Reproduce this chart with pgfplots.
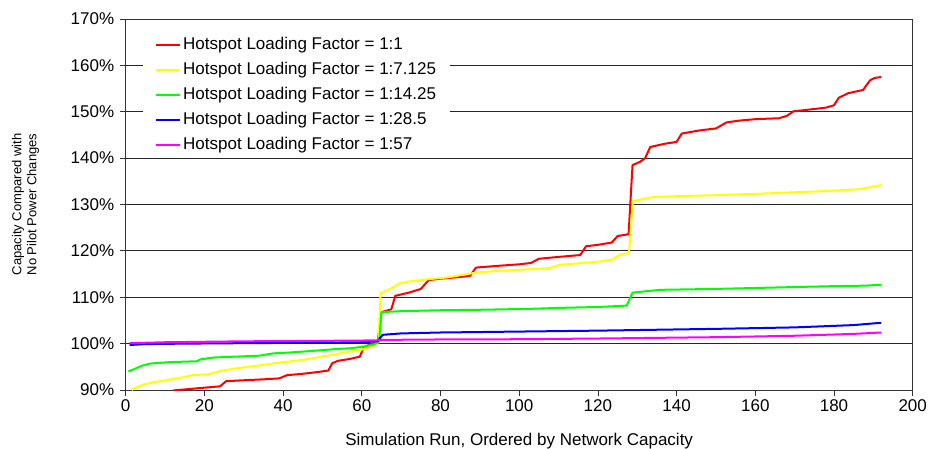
\documentclass[border=0pt]{standalone}
\usepackage{fontspec}
\setmainfont{Liberation Sans}
\usepackage{pgfplots}
\pgfplotsset{compat=1.18}
\usepackage{pgfplotstable}

\pgfplotstableread{
x y
12 89.9
16 90.2
20 90.5
24 90.8
25.5 91.9
30 92.1
35 92.3
39 92.5
41 93.2
45 93.5
49 93.9
51.5 94.2
52.5 95.8
54 96.3
57 96.7
59.5 97.2
60.5 99.2
62 99.8
64 100.3
65 106.8
67.5 107.4
68.5 110.3
72 111.0
75 111.8
77 113.7
80 114.0
84 114.3
87.5 114.6
89 116.4
95 116.8
100 117.1
103 117.4
105 118.3
110 118.7
115.5 119.1
117 121.0
120 121.3
123.5 121.8
125 123.2
127.8 123.6
128.8 138.5
130.7 139.2
132 140.0
133.3 142.4
137 143.1
140 143.5
141.3 145.3
146 146.0
150 146.4
152.7 147.7
156 148.1
160 148.4
166 148.6
168 149.1
169.7 150.1
173 150.4
178 150.9
180 151.4
181.2 153.0
183.6 154.0
187.4 154.7
188.3 155.8
189.2 156.8
190.4 157.3
192 157.5
}\redtab

\pgfplotstableread{
x y
1.5 90.0
3 90.7
5 91.3
8 91.8
11 92.2
15 92.8
17 93.2
21 93.4
24 94.1
26 94.4
30 94.9
34 95.3
40 96.0
45 96.5
48 96.9
51 97.4
55 98.0
60 98.7
63 99.6
64.2 100.3
64.8 110.9
67 111.7
69.7 113.0
72 113.4
77 113.9
82 114.3
87.5 115.1
90 115.4
95 115.7
102 116.0
107.8 116.3
110.4 117.0
115 117.3
120.5 117.7
123.9 118.2
125.6 119.2
127.9 119.5
128.9 130.7
131 131.1
134 131.6
140 131.8
150 132.0
160 132.3
166 132.5
175 132.8
180 133.0
186.6 133.3
192 134.2
}\yellowtab

\pgfplotstableread{
x y
0.7 94.0
2.4 94.6
4 95.2
6.2 95.7
11 96.0
18 96.2
19 96.6
22.3 97.0
28 97.2
34 97.4
37.5 97.9
42 98.1
48.5 98.5
53 98.8
57 99.0
60 99.3
63 99.8
64.4 100.4
65 106.8
70 107.0
80 107.2
90 107.3
102.8 107.5
110 107.7
120 107.9
127.3 108.2
128.8 111.0
135.8 111.6
150 111.8
160 112.0
170 112.2
180 112.4
188 112.5
192 112.7
}\greentab

\pgfplotstableread{
x y
1 99.7
5 99.9
15 100.0
30 100.1
50 100.2
60 100.3
64 100.5
65.3 101.9
70 102.2
80 102.4
100 102.6
120 102.8
151 103.2
170 103.5
185 104.0
192 104.5
}\bluetab

\pgfplotstableread{
x y
1 100.1
10 100.3
30 100.5
50 100.6
64 100.7
65 100.8
80 100.9
100 100.95
120 101.1
151 101.4
170 101.7
185 102.1
192 102.4
}\magentatab

\definecolor{cred}{RGB}{255,0,0}
\definecolor{cyellow}{RGB}{255,255,0}
\definecolor{cgreen}{RGB}{0,255,0}
\definecolor{cblue}{RGB}{0,0,255}
\definecolor{cmagenta}{RGB}{255,0,255}

\begin{document}
\begin{tikzpicture}
\begin{axis}[
  scale only axis, width=787pt, height=371pt,
  xmin=0, xmax=200, ymin=90, ymax=170,
  xtick={0,20,...,200}, ytick={90,100,...,170},
  yticklabel={\pgfmathprintnumber{\tick}\%},
  /pgf/number format/assume math mode=true,
  ymajorgrids, grid style={black!85, line width=0.8pt},
  axis line style={black!80, line width=0.9pt},
  tick align=outside, major tick length=6pt,
  tick style={black!80, line width=0.8pt},
  xtick pos=bottom, ytick pos=left,
  ticklabel style={font=\fontsize{17}{20}\selectfont},
  yticklabel style={xshift=-2pt},
  xlabel={Simulation Run, Ordered by Network Capacity},
  xlabel style={font=\fontsize{17}{20}\selectfont, at={(axis description cs:0.5,0)}, anchor=base, yshift=-55pt},
  ylabel={Capacity Compared with\\No Pilot Power Changes},
  ylabel style={font=\fontsize{13}{15}\selectfont, align=center, at={(axis description cs:-0.1273,0.5)}, anchor=center},
  legend cell align=left,
  legend image code/.code={\draw[#1] (0pt,0pt) -- (24pt,0pt);},
  legend style={at={(0.022,0.968)}, anchor=north west, draw=none, fill=white,
    inner xsep=12pt, inner ysep=4pt, row sep=6pt,
    font=\fontsize{17}{20}\selectfont,
    nodes={inner sep=2pt, text height=12pt, text depth=3pt}},
  every axis plot/.append style={line width=2pt, line join=round},
]
\addplot[cred] table[x=x,y=y] {\redtab};
\addlegendentry{Hotspot Loading Factor = 1:1}
\addplot[cyellow] table[x=x,y=y] {\yellowtab};
\addlegendentry{Hotspot Loading Factor = 1:7.125}
\addplot[cgreen] table[x=x,y=y] {\greentab};
\addlegendentry{Hotspot Loading Factor = 1:14.25}
\addplot[cblue] table[x=x,y=y] {\bluetab};
\addlegendentry{Hotspot Loading Factor = 1:28.5}
\addplot[cmagenta] table[x=x,y=y] {\magentatab};
\addlegendentry{Hotspot Loading Factor = 1:57}
\end{axis}
\pgfresetboundingbox
\useasboundingbox (-125.7pt,-58pt) rectangle (803.3pt,390pt);
\end{tikzpicture}
\end{document}
